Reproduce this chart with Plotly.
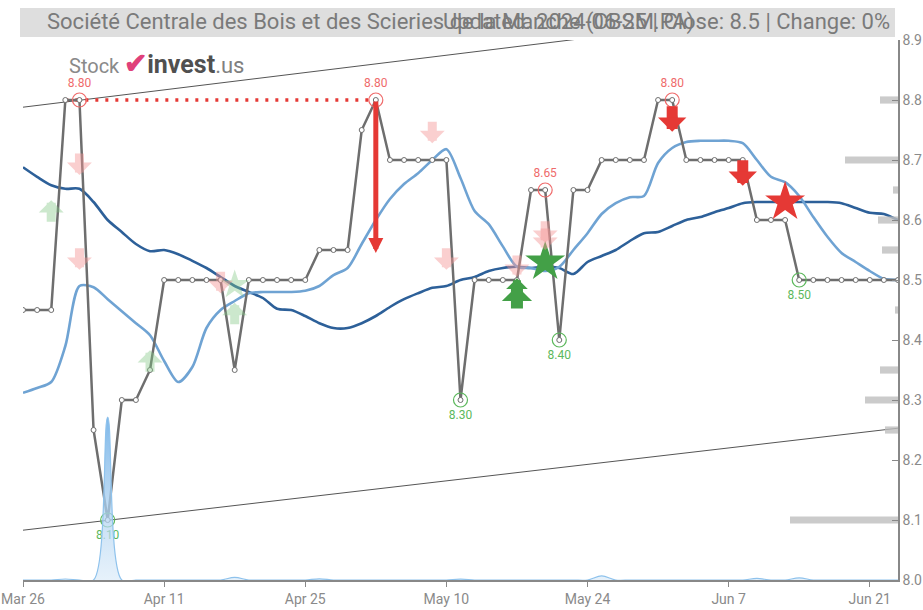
import plotly.graph_objects as go

# ---------------- data ----------------
dates = ["2024-03-26", "2024-03-27", "2024-03-28", "2024-04-02", "2024-04-03", "2024-04-04", "2024-04-05",
         "2024-04-08", "2024-04-09", "2024-04-10", "2024-04-11", "2024-04-12", "2024-04-15", "2024-04-16",
         "2024-04-17", "2024-04-18", "2024-04-19", "2024-04-22", "2024-04-23", "2024-04-24", "2024-04-25",
         "2024-04-26", "2024-04-29", "2024-04-30", "2024-05-02", "2024-05-03", "2024-05-06", "2024-05-07",
         "2024-05-08", "2024-05-09", "2024-05-10", "2024-05-13", "2024-05-14", "2024-05-15", "2024-05-16",
         "2024-05-17", "2024-05-20", "2024-05-21", "2024-05-22", "2024-05-23", "2024-05-24", "2024-05-27",
         "2024-05-28", "2024-05-29", "2024-05-30", "2024-05-31", "2024-06-03", "2024-06-04", "2024-06-05",
         "2024-06-06", "2024-06-07", "2024-06-10", "2024-06-11", "2024-06-12", "2024-06-13", "2024-06-14",
         "2024-06-17", "2024-06-18", "2024-06-19", "2024-06-20", "2024-06-21", "2024-06-24", "2024-06-25"]

close = [8.45, 8.45, 8.45, 8.80, 8.80, 8.25, 8.10, 8.30, 8.30, 8.35, 8.50, 8.50, 8.50, 8.50, 8.50, 8.35,
         8.50, 8.50, 8.50, 8.50, 8.50, 8.55, 8.55, 8.55, 8.75, 8.80, 8.70, 8.70, 8.70, 8.70, 8.70, 8.30,
         8.50, 8.50, 8.50, 8.50, 8.65, 8.65, 8.40, 8.65, 8.65, 8.70, 8.70, 8.70, 8.70, 8.80, 8.80, 8.70,
         8.70, 8.70, 8.70, 8.70, 8.60, 8.60, 8.60, 8.50, 8.50, 8.50, 8.50, 8.50, 8.50, 8.50, 8.50]

sma_short = [8.312, 8.320, 8.330, 8.390, 8.490, 8.488, 8.468, 8.448, 8.428, 8.408, 8.365, 8.330, 8.355,
             8.420, 8.450, 8.465, 8.478, 8.480, 8.480, 8.480, 8.482, 8.490, 8.508, 8.520, 8.560, 8.600,
             8.635, 8.660, 8.678, 8.700, 8.718, 8.670, 8.615, 8.593, 8.556, 8.522, 8.520, 8.515, 8.522,
             8.550, 8.578, 8.610, 8.628, 8.638, 8.640, 8.695, 8.720, 8.730, 8.732, 8.732, 8.732, 8.728,
             8.700, 8.672, 8.663, 8.640, 8.605, 8.572, 8.545, 8.530, 8.515, 8.502, 8.500]

sma_long = [8.688, 8.672, 8.658, 8.652, 8.652, 8.630, 8.600, 8.580, 8.560, 8.548, 8.550, 8.543, 8.532,
            8.520, 8.505, 8.490, 8.480, 8.470, 8.452, 8.450, 8.440, 8.428, 8.420, 8.420, 8.428, 8.440,
            8.455, 8.468, 8.478, 8.487, 8.490, 8.500, 8.505, 8.515, 8.520, 8.522, 8.520, 8.522, 8.520,
            8.510, 8.530, 8.540, 8.550, 8.565, 8.578, 8.580, 8.590, 8.600, 8.605, 8.613, 8.620, 8.628,
            8.630, 8.630, 8.630, 8.630, 8.630, 8.630, 8.628, 8.620, 8.612, 8.610, 8.600]

volume = [0, 0, 0, 10, 0, 0, 1600, 0, 0, 0, 0, 0, 0, 0, 0, 25, 0, 0, 0, 0, 0, 12, 0, 0, 0, 0, 0, 0,
          0, 0, 0, 8, 0, 0, 0, 0, 0, 0, 0, 0, 0, 40, 0, 0, 0, 0, 0, 0, 0, 0, 0, 0, 15, 0, 0, 20, 0, 0,
          0, 0, 0, 0, 0]

tick_idx = [0, 10, 20, 30, 40, 50, 60]
tick_labels = ["Mar 26", "Apr 11", "Apr 25", "May 10", "May 24", "Jun 7", "Jun 21"]

trend_upper = [8.788, 8.967]
trend_lower = [8.083, 8.253]

profile_prices = [8.80, 8.70, 8.65, 8.60, 8.55, 8.45, 8.35, 8.30, 8.25, 8.10]
profile_volume = [18, 53, 5, 20, 16, 3, 18, 33, 13, 108]

high_idx = [4, 25, 37, 46]
low_idx = [6, 31, 38, 55]

resistance_idx = [3, 25]
resistance_level = 8.80

sell_arrow_idx = [46, 51]
sell_arrow_tip = [8.747, 8.657]
faded_sell_idx = [4, 4, 14, 29, 30, 35, 37, 37]
faded_sell_tip = [8.675, 8.517, 8.478, 8.728, 8.517, 8.505, 8.562, 8.550]
faded_buy_idx = [2, 9, 15]
faded_buy_tip = [8.633, 8.383, 8.462]
faded_buy_star_idx = [15]
faded_buy_star_y = [8.492]
buy_arrow_idx = [35, 35]
buy_arrow_tip = [8.503, 8.49]
buy_star_idx = [37]
buy_star_y = [8.53]
sell_star_idx = [54]
sell_star_y = [8.63]
big_sell_idx = 25
big_sell_from = 8.80
big_sell_to = 8.545

title_left = "Société Centrale des Bois et des Scieries de la Manche (CBSM.PA)"
title_right = "Updated: 2024-06-25 | Close: 8.5 | Change: 0%"

# ---------------- figure ----------------
W, H = 923, 610
ML, MR, MT, MB = 23, 25, 40, 30
PW, PH = W - ML - MR, H - MT - MB

FONT = "Roboto, 'Liberation Sans', sans-serif"
RED = "#e53935"
GREEN = "#43a047"

fig = go.Figure()

# volume area
fig.add_trace(go.Scatter(
    x=dates, y=volume, yaxis="y2", mode="lines", line=dict(color="#8ec2ec", width=1.2, shape="spline"),
    fill="tozeroy",
    fillgradient=dict(type="vertical", colorscale=[[0, "rgba(215,233,248,0.6)"], [1, "rgba(120,180,232,0.95)"]]),
    hoverinfo="skip", showlegend=False))

# volume-by-price profile
fig.add_trace(go.Bar(
    y=profile_prices, x=profile_volume, orientation="h", xaxis="x2", yaxis="y",
    width=0.012, marker=dict(color="rgba(190,190,190,0.8)", line=dict(width=0)),
    hoverinfo="skip", showlegend=False))

# trend lines
fig.add_trace(go.Scatter(x=[dates[0], dates[-1]], y=trend_upper, mode="lines",
                         line=dict(color="#555555", width=1), hoverinfo="skip", showlegend=False))
fig.add_trace(go.Scatter(x=[dates[0], dates[-1]], y=trend_lower, mode="lines",
                         line=dict(color="#555555", width=1), hoverinfo="skip", showlegend=False))

# SMAs
fig.add_trace(go.Scatter(x=dates, y=sma_long, mode="lines",
                         line=dict(color="#2d6099", width=2.6, shape="spline", smoothing=0.8),
                         showlegend=False))
fig.add_trace(go.Scatter(x=dates, y=sma_short, mode="lines",
                         line=dict(color="#6fa3d3", width=2.6, shape="spline", smoothing=0.8),
                         showlegend=False))

# resistance dotted line
fig.add_trace(go.Scatter(x=[dates[i] for i in resistance_idx], y=[resistance_level] * 2, mode="lines",
                         line=dict(color=RED, width=3.5, dash="3px,7px"), hoverinfo="skip",
                         showlegend=False))

# close line
fig.add_trace(go.Scatter(x=dates, y=close, mode="lines+markers",
                         line=dict(color="#6e6e6e", width=2.5),
                         marker=dict(size=5, color="white", line=dict(color="#6e6e6e", width=1)),
                         showlegend=False))

# high / low circles with labels
fig.add_trace(go.Scatter(
    x=[dates[i] for i in high_idx], y=[close[i] for i in high_idx], mode="markers+text",
    text=[f"{close[i]:.2f}" for i in high_idx], textposition="top center",
    textfont=dict(family=FONT, size=12, color="#ef6b6b"),
    marker=dict(size=14, color="rgba(0,0,0,0)", line=dict(color="#ef6b6b", width=1.2)),
    showlegend=False))
fig.add_trace(go.Scatter(
    x=[dates[i] for i in low_idx], y=[close[i] for i in low_idx], mode="markers+text",
    text=[f"{close[i]:.2f}" for i in low_idx], textposition="bottom center",
    textfont=dict(family=FONT, size=12, color="#5cb85c"),
    marker=dict(size=14, color="rgba(0,0,0,0)", line=dict(color="#5cb85c", width=1.2)),
    showlegend=False))

# stars
fig.add_trace(go.Scatter(x=[dates[i] for i in faded_buy_star_idx], y=faded_buy_star_y, mode="markers",
                         marker=dict(symbol="star", size=22, color="rgba(129,199,132,0.4)"),
                         showlegend=False))
fig.add_trace(go.Scatter(x=[dates[i] for i in buy_star_idx], y=buy_star_y, mode="markers",
                         marker=dict(symbol="star", size=30, color=GREEN), showlegend=False))
fig.add_trace(go.Scatter(x=[dates[i] for i in sell_star_idx], y=sell_star_y, mode="markers",
                         marker=dict(symbol="star", size=30, color=RED), showlegend=False))

annotations = []


def block_arrow(i, tip, color, down, width, size, length):
    return dict(x=dates[i], y=tip, xref="x", yref="y", ax=0, ay=-length if down else length,
                showarrow=True, arrowhead=1, arrowwidth=width, arrowsize=size, arrowcolor=color,
                text="", standoff=0)


for i, t in zip(faded_sell_idx, faded_sell_tip):
    annotations.append(block_arrow(i, t, "rgba(244,150,150,0.45)", True, 9, 0.46, 23))
for i, t in zip(faded_buy_idx, faded_buy_tip):
    annotations.append(block_arrow(i, t, "rgba(129,199,132,0.4)", False, 9, 0.46, 23))
for i, t in zip(sell_arrow_idx, sell_arrow_tip):
    annotations.append(block_arrow(i, t, RED, True, 11, 0.43, 27))
annotations.append(block_arrow(buy_arrow_idx[0], buy_arrow_tip[0], GREEN, False, 8, 0.45, 20))
annotations.append(block_arrow(buy_arrow_idx[1], buy_arrow_tip[1], GREEN, False, 12, 0.42, 24))

# big red sell arrow
annotations.append(dict(x=dates[big_sell_idx], y=big_sell_to, xref="x", yref="y",
                        ax=0, ay=big_sell_from, ayref="y", showarrow=True, arrowhead=2,
                        arrowwidth=5, arrowsize=0.6, arrowcolor=RED, text="", standoff=0))


def px(xw):
    return (xw - ML) / PW


def py(yw):
    return 1 + (MT - yw) / PH


annotations.append(dict(x=px(45), y=py(22), xref="paper", yref="paper", xanchor="left",
                        yanchor="middle", text=title_left, showarrow=False,
                        font=dict(family=FONT, size=22, color="#7a7a7a")))
annotations.append(dict(x=px(892), y=py(22), xref="paper", yref="paper", xanchor="right",
                        yanchor="middle", text=title_right, showarrow=False,
                        font=dict(family=FONT, size=22, color="#7a7a7a")))
# logo
annotations.append(dict(x=px(67), y=py(64), xref="paper", yref="paper", xanchor="left",
                        yanchor="middle", showarrow=False,
                        text="<span style='color:#8a8a8a;font-size:20px'>Stock</span> "
                             "<b style='color:#e0407a;font-size:28px'>✔</b>"
                             "<b style='color:#505050;font-size:25px'>invest</b>"
                             "<span style='color:#808080;font-size:22px'>.us</span>",
                        font=dict(family=FONT, size=20, color="#555555")))

fig.update_layout(
    width=W, height=H,
    margin=dict(l=ML, r=MR, t=MT, b=MB, autoexpand=False),
    paper_bgcolor="white", plot_bgcolor="white",
    font=dict(family=FONT, size=14, color="#8a8a8a"),
    showlegend=False,
    hovermode=False,
    xaxis=dict(type="category", range=[0, len(dates) - 1], tickvals=[dates[i] for i in tick_idx],
               ticktext=tick_labels, showgrid=False, zeroline=False, showline=True, linecolor="#888888",
               linewidth=1.5, ticks="outside", ticklen=5, tickcolor="#888888", automargin=False,
               tickfont=dict(family=FONT, size=14, color="#8a8a8a")),
    xaxis2=dict(overlaying="x", range=[PW * max(profile_volume) / 108, 0], visible=False),
    yaxis=dict(side="right", range=[8.0, 8.9], dtick=0.1, tickformat=".1f", showgrid=False,
               zeroline=False, showline=True, linecolor="#888888", linewidth=1.5, ticks="inside",
               ticklen=6, tickcolor="#888888", automargin=False,
               tickfont=dict(family=FONT, size=14, color="#8a8a8a")),
    yaxis2=dict(overlaying="y", range=[0, 5300], visible=False),
    shapes=[dict(type="rect", xref="paper", yref="paper", x0=px(20), x1=px(895),
                 y0=py(37), y1=py(8), fillcolor="#dedede", line=dict(width=0), layer="below")],
    annotations=annotations,
)

fig.write_html("out.html", config={"displayModeBar": False},
               post_script="document.body.style.margin='0';document.body.style.overflow='hidden';")
